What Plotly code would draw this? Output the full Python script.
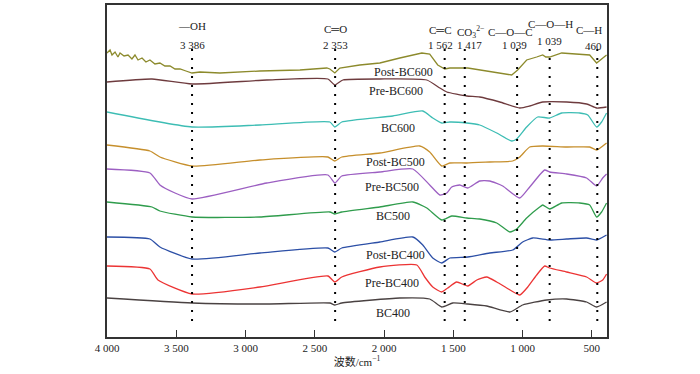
import plotly.graph_objects as go

# ---------------- data (wavenumber cm^-1, relative transmittance, offset) ----------------
post600_w = [4000, 3978, 3964, 3942, 3921, 3906, 3877, 3848, 3820, 3798, 3776, 3747, 3719, 3690, 3654,
             3618, 3582, 3545, 3509, 3473, 3430, 3386, 3329, 3185, 2896, 2607, 2413, 2391, 2355, 2319,
             2175, 2030, 1886, 1727, 1670, 1612, 1561, 1525, 1395, 1309, 1186, 1078, 1035, 970, 898,
             854, 832, 804, 717, 587, 515, 465, 429, 393]
post600_v = [284, 287, 282, 285, 280, 284, 281, 282, 278, 282, 277, 279, 275, 277, 273,
             274, 271, 271, 268, 268, 266, 264, 265, 264, 266, 267, 269, 268, 264, 269,
             272, 274, 279, 284, 283, 272, 268, 269, 269, 267, 264, 262, 267, 277, 280,
             282, 280, 280, 284, 283, 282, 274, 278, 282]

pre600_w = [4000, 3675, 3386, 2846, 2405, 2355, 2297, 2030, 1691, 1597, 1547, 1403, 1309, 1164,
            1020, 948, 854, 681, 537, 465, 393]
pre600_v = [255, 258, 253, 257, 258, 252, 257, 258, 257, 249, 245, 241, 240, 235,
            229, 231, 235, 235, 233, 229, 230]

bc600_w = [4000, 3386, 2896, 2391, 2355, 2305, 1936, 1720, 1648, 1583, 1525, 1403, 1309, 1186,
           1078, 1042, 970, 891, 804, 717, 587, 529, 465, 429, 393]
bc600_v = [225, 210, 212, 215, 210, 215, 221, 226, 219, 214, 215, 214, 212, 204,
           196, 198, 210, 220, 219, 224, 224, 222, 210, 215, 224]

post500_w = [4000, 3690, 3618, 3386, 2896, 2405, 2355, 2305, 2030, 1742, 1670, 1583, 1525, 1403,
             1237, 1071, 1020, 948, 854, 681, 515, 465, 393]
post500_v = [192, 186, 180, 171, 177, 180, 176, 180, 184, 191, 185, 171, 174, 174,
             175, 176, 180, 190, 191, 190, 190, 187, 194]

pre500_w = [4000, 3690, 3618, 3509, 3386, 2846, 2405, 2355, 2305, 2030, 1792, 1670, 1597, 1547,
            1511, 1453, 1395, 1309, 1237, 1143, 1020, 948, 840, 804, 681, 537, 465, 421, 393]
pre500_v = [168, 164, 152, 144, 138, 154, 162, 154, 161, 165, 168, 152, 142, 144,
            150, 152, 149, 156, 156, 151, 139, 150, 167, 165, 163, 159, 151, 159, 163]

bc500_w = [4000, 3675, 3618, 3386, 2896, 2391, 2355, 2305, 2030, 1792, 1691, 1583, 1511, 1403,
           1309, 1186, 1092, 1042, 970, 876, 854, 804, 717, 587, 515, 465, 429, 393]
bc500_v = [135, 130, 126, 120, 120, 125, 123, 125, 130, 135, 129, 117, 121, 119,
           118, 114, 105, 108, 119, 130, 132, 128, 134, 134, 132, 120, 125, 134]

post400_w = [4000, 3690, 3618, 3386, 2896, 2405, 2355, 2305, 2030, 1792, 1720, 1648, 1583, 1525,
             1395, 1237, 1071, 999, 926, 804, 681, 537, 465, 393]
post400_v = [100, 98, 90, 78, 84, 89, 85, 89, 95, 100, 92, 79, 74, 79,
             80, 84, 87, 95, 99, 97, 98, 99, 97, 102]

pre400_w = [4000, 3690, 3632, 3386, 2896, 2405, 2355, 2305, 2030, 1763, 1706, 1648, 1583, 1540,
            1475, 1395, 1330, 1258, 1186, 1114, 1020, 962, 898, 840, 804, 681, 537, 465, 421, 393]
pre400_v = [71, 68, 57, 43, 50, 61, 55, 60, 70, 72, 60, 50, 45, 49,
            55, 51, 57, 60, 55, 49, 42, 50, 62, 71, 69, 65, 60, 54, 57, 63]

bc400_w = [4000, 3386, 2846, 2391, 2355, 2305, 1886, 1670, 1583, 1504, 1395, 1258, 1092, 999,
           825, 681, 537, 465, 393]
bc400_v = [39, 34, 33, 34, 32, 34, 39, 38, 30, 34, 33, 31, 25, 32,
           37, 38, 35, 30, 35]

series_names = ["Post-BC600", "Pre-BC600", "BC600", "Post-BC500", "Pre-BC500",
                "BC500", "Post-BC400", "Pre-BC400", "BC400"]
series_w = [post600_w, pre600_w, bc600_w, post500_w, pre500_w, bc500_w, post400_w, pre400_w, bc400_w]
series_v = [post600_v, pre600_v, bc600_v, post500_v, pre500_v, bc500_v, post400_v, pre400_v, bc400_v]
series_colors = ["#8c8a2c", "#6e3b3e", "#3dbdb4", "#c68f2c", "#9c5fc2",
                 "#2f9c4c", "#2c4fa6", "#ec3434", "#4a4242"]

# label anchor (wavenumber, value) for each series name
label_w = [1857, 1915, 1900, 1915, 1944, 1937, 1915, 1944, 1937]
label_v = [265, 246, 209, 175, 150, 121, 82, 54, 24]

# band assignments
peak_positions = [3386, 2353, 1562, 1417, 1039, 804, 460]
group_texts = ["—OH", "C═O", "C═C", "CO<sub>3</sub><sup>2−</sup>", "C—O—C", "C—O—H", "C—H"]
group_w = [3386, 2353, 1597, 1374, 1085, 797, 522]
group_py = [18, 21, 22, 22, 24, 16, 22]
number_texts = ["3 386", "2 353", "1 562", "1 417", "1 039", "1 039", "460"]
number_w = [3386, 2353, 1590, 1381, 1056, 804, 486]
number_py = [37, 37, 37, 37, 37, 33, 38]

xtick_vals = [4000, 3500, 3000, 2500, 2000, 1500, 1000, 500]
xtick_text = ["4 000", "3 500", "3 000", "2 500", "2 000", "1 500", "1 000", "500"]

# ---------------- figure ----------------
FONT = "Liberation Serif, Times New Roman, Noto Sans CJK SC, serif"
fig = go.Figure()
for i, (name, w, v, c) in enumerate(zip(series_names, series_w, series_v, series_colors)):
    shape = "linear" if i == 0 else "spline"
    fig.add_trace(go.Scatter(x=w, y=v, mode="lines", name=name,
                             line=dict(color=c, width=1.3, shape=shape, smoothing=0.5),
                             showlegend=False, hoverinfo="skip"))

PLOT_TOP_PX, PLOT_H = 5, 332
def paper_y(py):
    return (PLOT_TOP_PX + PLOT_H - py) / PLOT_H

annotations = []
for name, w, v in zip(series_names, label_w, label_v):
    annotations.append(dict(x=w, y=v, xref="x", yref="y", text=name, showarrow=False,
                            font=dict(family=FONT, size=12, color="#222")))
for t, w, py in zip(group_texts, group_w, group_py):
    annotations.append(dict(x=w, y=paper_y(py), xref="x", yref="paper", text=t, showarrow=False,
                            font=dict(family=FONT, size=11, color="#222")))
for t, w, py in zip(number_texts, number_w, number_py):
    annotations.append(dict(x=w, y=paper_y(py), xref="x", yref="paper", text=t, showarrow=False,
                            font=dict(family=FONT, size=11, color="#222")))

shapes = []
for p in peak_positions:
    shapes.append(dict(type="line", xref="x", yref="paper", x0=p, x1=p,
                       y0=paper_y(321), y1=paper_y(49),
                       line=dict(color="black", width=2, dash="2px,7px")))

fig.update_layout(
    width=700, height=374,
    margin=dict(l=107, r=93, t=5, b=37, autoexpand=False),
    paper_bgcolor="white", plot_bgcolor="white",
    annotations=annotations, shapes=shapes,
    font=dict(family=FONT, size=11, color="#222"),
    xaxis=dict(range=[4000, 390], tickvals=xtick_vals, ticktext=xtick_text,
               ticks="inside", ticklen=7, tickwidth=1, tickcolor="#333",
               showline=True, linecolor="#333", linewidth=1.5, mirror=True,
               showgrid=False, zeroline=False,
               tickfont=dict(family=FONT, size=11, color="#222"),
               title=dict(text="波数/cm<sup>−1</sup>", standoff=3,
                          font=dict(family=FONT, size=11, color="#222")),
               automargin=False),
    yaxis=dict(range=[0, 332], showticklabels=False, ticks="",
               showline=True, linecolor="#333", linewidth=1.5, mirror=True,
               showgrid=False, zeroline=False, automargin=False),
)
fig.write_html("out.html", config={"displayModeBar": False},
               post_script="document.body.style.margin='0';document.body.style.padding='0';")
